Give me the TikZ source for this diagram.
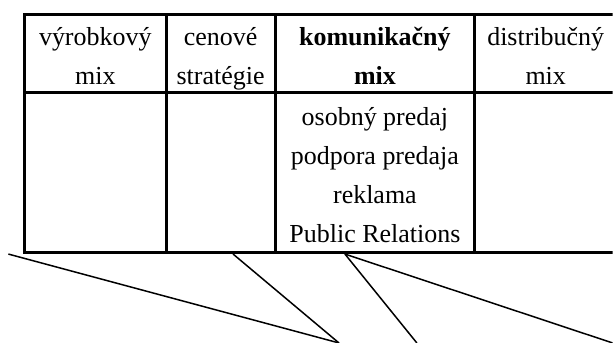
\documentclass[tikz,border=0pt]{standalone}
\usepackage{fontspec}
\setmainfont{Liberation Serif}
\usepackage{tikz}

\tikzset{
	cellText/.style={anchor=base, inner sep=0pt, font=\fontsize{13}{15}\selectfont},
	gridLine/.style={line width=1.5pt},
	linkLine/.style={line width=0.75pt}
}

\begin{document}
\begin{tikzpicture}[x=0.5pt,y=-0.5pt]
		\draw[use as bounding box, transparent] (0,0) rectangle (613,343);
		\clip (0,0) rectangle (613,343);

		% Column centres and row baselines.
		\def\cA{95}
		\def\cB{220.5}
		\def\cC{375}
		\def\cD{546}

		% Table frame.
		\draw[gridLine] (640,14) -- (24,14) -- (24,252) -- (640,252);
		\draw[gridLine] (24,92) -- (640,92);
		\draw[gridLine] (166,14) -- (166,252);
		\draw[gridLine] (275,14) -- (275,252);
		\draw[gridLine] (475,14) -- (475,252);

		% HEADER
		\node[cellText] (vyr1) at (\cA,45) {výrobkový};
		\node[cellText] (vyr2) at (\cA,84) {mix};
		\node[cellText] (cen1) at (\cB,45) {cenové};
		\node[cellText] (cen2) at (\cB,84) {stratégie};
		\node[cellText] (kom1) at (\cC,45) {\textbf{komunikačný}};
		\node[cellText] (kom2) at (\cC,84) {\textbf{mix}};
		\node[cellText] (dis1) at (\cD,45) {distribučný};
		\node[cellText] (dis2) at (\cD,84) {mix};

		% BODY
		\node[cellText] (osob) at (\cC,125) {osobný predaj};
		\node[cellText] (podp) at (\cC,164) {podpora predaja};
		\node[cellText] (rekl) at (\cC,203) {reklama};
		\node[cellText] (pubr) at (\cC,242) {Public Relations};

		% Connectors below the table.
		\coordinate (startA) at (8,254);
		\coordinate (startB) at (233,254);
		\coordinate (startC) at (345,254);
		\coordinate (endA) at (339,343);
		\coordinate (endC) at (417,343);
		\coordinate (endD) at (613,343);

		\draw[linkLine] (startA) -- (endA);
		\draw[linkLine] (startB) -- (endA);
		\draw[linkLine] (startC) -- (endC);
		\draw[linkLine] (startC) -- (endD);
	\end{tikzpicture}
\end{document}
